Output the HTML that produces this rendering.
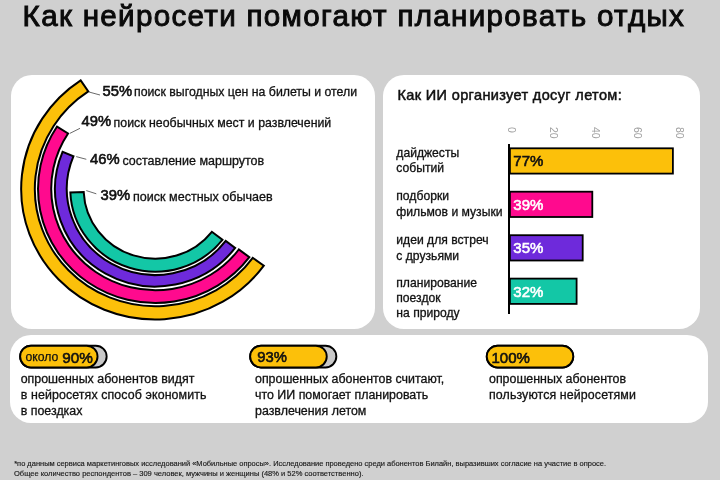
<!DOCTYPE html>
<html lang="ru"><head><meta charset="utf-8"><title>Как нейросети помогают планировать отдых</title>
<style>
html,body{margin:0;padding:0;}
body{width:720px;height:480px;background:#d0d0d0;position:relative;overflow:hidden;font-family:"Liberation Sans",sans-serif;}
.panel{position:absolute;background:#fff;}
.t{position:absolute;white-space:nowrap;font-family:"Liberation Sans",sans-serif;}
#txt{position:absolute;left:0;top:0;width:720px;height:480px;will-change:transform;}
.tick{font-size:10.5px;line-height:10.5px;color:#a0a0a0;transform-origin:0 0;transform:rotate(90deg) translate(0,-50%);}
</style></head><body>
<div class="panel" style="left:10.7px;top:75px;width:364.2px;height:253.6px;border-radius:21px;"></div>
<div class="panel" style="left:382.8px;top:75px;width:317.4px;height:253.6px;border-radius:21px;"></div>
<div class="panel" style="left:10.4px;top:334.8px;width:697.2px;height:88px;border-radius:21px;"></div>
<svg width="720" height="480" viewBox="0 0 720 480" style="position:absolute;left:0;top:0"><g transform="translate(155.3 188.9) scale(1.027 1)"><path d="M105.66 76.76 A130.60 130.60 0 1 1 -72.65 -108.53 L-65.25 -97.47 A117.30 117.30 0 1 0 94.90 68.95 Z" fill="#fcc00a" stroke="#000" stroke-width="2.0" stroke-linejoin="miter" vector-effect="non-scaling-stroke"/><path d="M91.56 68.25 A114.20 114.20 0 0 1 -95.67 -62.36 L-84.94 -55.37 A101.40 101.40 0 0 0 81.30 60.60 Z" fill="#ff0a8e" stroke="#000" stroke-width="2.0" stroke-linejoin="miter" vector-effect="non-scaling-stroke"/><path d="M77.74 59.01 A97.60 97.60 0 0 1 -90.30 -37.03 L-79.66 -32.67 A86.10 86.10 0 0 0 68.58 52.06 Z" fill="#6e2adb" stroke="#000" stroke-width="2.0" stroke-linejoin="miter" vector-effect="non-scaling-stroke"/><path d="M65.34 50.86 A82.80 82.80 0 0 1 -82.72 3.61 L-69.73 3.04 A69.80 69.80 0 0 0 55.08 42.88 Z" fill="#13c7a6" stroke="#000" stroke-width="2.0" stroke-linejoin="miter" vector-effect="non-scaling-stroke"/></g><line x1="89" y1="92" x2="100" y2="95" stroke="#444" stroke-width="0.8"/><line x1="70" y1="133.3" x2="80" y2="128.3" stroke="#444" stroke-width="0.8"/><line x1="76.2" y1="156.6" x2="86.3" y2="159.3" stroke="#444" stroke-width="0.8"/><line x1="86.3" y1="190.6" x2="96.3" y2="193.8" stroke="#444" stroke-width="0.8"/><rect x="509.90" y="148.30" width="163.00" height="25.30" fill="#fcc00a" stroke="#000" stroke-width="1.8"/><rect x="509.90" y="191.70" width="82.40" height="25.30" fill="#ff0a8e" stroke="#000" stroke-width="1.8"/><rect x="509.90" y="235.20" width="72.80" height="25.30" fill="#6e2adb" stroke="#000" stroke-width="1.8"/><rect x="509.90" y="278.60" width="66.70" height="25.30" fill="#13c7a6" stroke="#000" stroke-width="1.8"/><rect x="508" y="144" width="2" height="170" fill="#000"/><rect x="20.15" y="345.75" width="86.5" height="21.700000000000003" rx="10.850000000000001" fill="#c9c9c9" stroke="#000" stroke-width="1.9"/><rect x="20.15" y="345.75" width="77.39" height="21.700000000000003" rx="10.850000000000001" fill="#fcc00a" stroke="#000" stroke-width="1.9"/><rect x="250.14999999999998" y="345.75" width="86.19999999999999" height="21.700000000000003" rx="10.850000000000001" fill="#c9c9c9" stroke="#000" stroke-width="1.9"/><rect x="250.14999999999998" y="345.75" width="76.60" height="21.700000000000003" rx="10.850000000000001" fill="#fcc00a" stroke="#000" stroke-width="1.9"/><rect x="486.75" y="345.75" width="86.5" height="21.700000000000003" rx="10.850000000000001" fill="#c9c9c9" stroke="#000" stroke-width="1.9"/><rect x="486.75" y="345.75" width="86.50" height="21.700000000000003" rx="10.850000000000001" fill="#fcc00a" stroke="#000" stroke-width="1.9"/></svg>
<div id="txt"><div class="t" style="left:22.6px;top:-2.70px;font-size:29.6px;line-height:38.48px;font-weight:normal;color:#0a0a0a;letter-spacing:1.3px;-webkit-text-stroke:0.95px #0a0a0a;">Как нейросети помогают планировать отдых</div><div class="t" style="left:102.5px;top:82.25px;font-size:14.8px;line-height:19.24px;font-weight:normal;color:#111;-webkit-text-stroke:0.6px currentColor;">55%</div><div class="t" style="left:134.0px;top:85.44px;font-size:12.3px;line-height:15.99px;font-weight:normal;color:#111;-webkit-text-stroke:0.3px currentColor;">поиск выгодных цен на билеты и отели</div><div class="t" style="left:81.6px;top:111.85px;font-size:14.8px;line-height:19.24px;font-weight:normal;color:#111;-webkit-text-stroke:0.6px currentColor;">49%</div><div class="t" style="left:113.6px;top:115.00px;font-size:12.35px;line-height:16.05px;font-weight:normal;color:#111;-webkit-text-stroke:0.3px currentColor;">поиск необычных мест и развлечений</div><div class="t" style="left:90px;top:149.85px;font-size:14.8px;line-height:19.24px;font-weight:normal;color:#111;-webkit-text-stroke:0.6px currentColor;">46%</div><div class="t" style="left:122.4px;top:152.84px;font-size:12.5px;line-height:16.25px;font-weight:normal;color:#111;-webkit-text-stroke:0.3px currentColor;">составление маршрутов</div><div class="t" style="left:100.6px;top:186.45px;font-size:14.8px;line-height:19.24px;font-weight:normal;color:#111;-webkit-text-stroke:0.6px currentColor;">39%</div><div class="t" style="left:133.0px;top:189.39px;font-size:12.55px;line-height:16.32px;font-weight:normal;color:#111;-webkit-text-stroke:0.3px currentColor;">поиск местных обычаев</div><div class="t" style="left:397.5px;top:86.25px;font-size:14.5px;line-height:18.85px;font-weight:normal;color:#111;letter-spacing:0.36px;-webkit-text-stroke:0.5px #111;">Как ИИ организует досуг летом:</div><div class="t" style="left:396.3px;top:146.39px;font-size:12.15px;line-height:15.8px;font-weight:normal;color:#111;-webkit-text-stroke:0.3px currentColor;">дайджесты</div><div class="t" style="left:396.3px;top:161.49px;font-size:12.15px;line-height:15.8px;font-weight:normal;color:#111;-webkit-text-stroke:0.3px currentColor;">событий</div><div class="t" style="left:396.3px;top:188.99px;font-size:12.15px;line-height:15.8px;font-weight:normal;color:#111;-webkit-text-stroke:0.3px currentColor;">подборки</div><div class="t" style="left:396.3px;top:204.69px;font-size:12.15px;line-height:15.8px;font-weight:normal;color:#111;-webkit-text-stroke:0.3px currentColor;">фильмов и музыки</div><div class="t" style="left:396.3px;top:233.29px;font-size:12.15px;line-height:15.8px;font-weight:normal;color:#111;-webkit-text-stroke:0.3px currentColor;">идеи для встреч</div><div class="t" style="left:396.3px;top:248.99px;font-size:12.15px;line-height:15.8px;font-weight:normal;color:#111;-webkit-text-stroke:0.3px currentColor;">с друзьями</div><div class="t" style="left:396.3px;top:276.39px;font-size:12.15px;line-height:15.8px;font-weight:normal;color:#111;-webkit-text-stroke:0.3px currentColor;">планирование</div><div class="t" style="left:396.3px;top:291.49px;font-size:12.15px;line-height:15.8px;font-weight:normal;color:#111;-webkit-text-stroke:0.3px currentColor;">поездок</div><div class="t" style="left:396.3px;top:306.49px;font-size:12.15px;line-height:15.8px;font-weight:normal;color:#111;-webkit-text-stroke:0.3px currentColor;">на природу</div><div class="t" style="left:513.3px;top:151.35px;font-size:15px;line-height:19.5px;font-weight:normal;color:#111;-webkit-text-stroke:0.6px currentColor;">77%</div><div class="t" style="left:513.3px;top:195.05px;font-size:15px;line-height:19.5px;font-weight:normal;color:#fff;-webkit-text-stroke:0.6px currentColor;">39%</div><div class="t" style="left:513.3px;top:238.35px;font-size:15px;line-height:19.5px;font-weight:normal;color:#fff;-webkit-text-stroke:0.6px currentColor;">35%</div><div class="t" style="left:513.3px;top:281.75px;font-size:15px;line-height:19.5px;font-weight:normal;color:#fff;-webkit-text-stroke:0.6px currentColor;">32%</div><div class="t tick" style="left:511.9px;top:127px;">0</div><div class="t tick" style="left:553.8px;top:127px;">20</div><div class="t tick" style="left:595.7px;top:127px;">40</div><div class="t tick" style="left:637.6px;top:127px;">60</div><div class="t tick" style="left:679.5px;top:127px;">80</div><div class="t" style="left:20.7px;top:370.92px;font-size:12.42px;line-height:16.15px;font-weight:normal;color:#111;-webkit-text-stroke:0.3px currentColor;">опрошенных абонентов видят</div><div class="t" style="left:20.7px;top:386.72px;font-size:12.42px;line-height:16.15px;font-weight:normal;color:#111;-webkit-text-stroke:0.3px currentColor;letter-spacing:0.1px;">в нейросетях способ экономить</div><div class="t" style="left:20.7px;top:402.52px;font-size:12.42px;line-height:16.15px;font-weight:normal;color:#111;-webkit-text-stroke:0.3px currentColor;">в поездках</div><div class="t" style="left:255px;top:370.92px;font-size:12.42px;line-height:16.15px;font-weight:normal;color:#111;-webkit-text-stroke:0.3px currentColor;">опрошенных абонентов считают,</div><div class="t" style="left:255px;top:386.72px;font-size:12.42px;line-height:16.15px;font-weight:normal;color:#111;-webkit-text-stroke:0.3px currentColor;">что ИИ помогает планировать</div><div class="t" style="left:255px;top:402.52px;font-size:12.42px;line-height:16.15px;font-weight:normal;color:#111;-webkit-text-stroke:0.3px currentColor;">развлечения летом</div><div class="t" style="left:489px;top:370.92px;font-size:12.42px;line-height:16.15px;font-weight:normal;color:#111;-webkit-text-stroke:0.3px currentColor;">опрошенных абонентов</div><div class="t" style="left:489px;top:386.72px;font-size:12.42px;line-height:16.15px;font-weight:normal;color:#111;-webkit-text-stroke:0.3px currentColor;letter-spacing:0.1px;">пользуются нейросетями</div><div class="t" style="left:25.6px;top:350.44px;font-size:12.2px;line-height:15.86px;font-weight:normal;color:#111;-webkit-text-stroke:0.25px #111;">около</div><div class="t" style="left:62.2px;top:347.75px;font-size:15.3px;line-height:19.89px;font-weight:normal;color:#111;-webkit-text-stroke:0.6px currentColor;">90%</div><div class="t" style="left:257.3px;top:348.25px;font-size:14.8px;line-height:19.24px;font-weight:normal;color:#111;-webkit-text-stroke:0.6px currentColor;">93%</div><div class="t" style="left:491.5px;top:348.05px;font-size:15px;line-height:19.5px;font-weight:normal;color:#111;-webkit-text-stroke:0.6px currentColor;">100%</div><div class="t" style="left:14.2px;top:459.46px;font-size:7.47px;line-height:9.71px;font-weight:normal;color:#1a1a1a;-webkit-text-stroke:0.15px #1a1a1a;">*по данным сервиса маркетинговых исследований «Мобильные опросы». Исследование проведено среди абонентов Билайн, выразивших согласие на участие в опросе.</div><div class="t" style="left:14px;top:469.10px;font-size:7.52px;line-height:9.78px;font-weight:normal;color:#1a1a1a;-webkit-text-stroke:0.15px #1a1a1a;">Общее количество респондентов – 309 человек, мужчины и женщины (48% и 52% соответственно).</div></div>
</body></html>
